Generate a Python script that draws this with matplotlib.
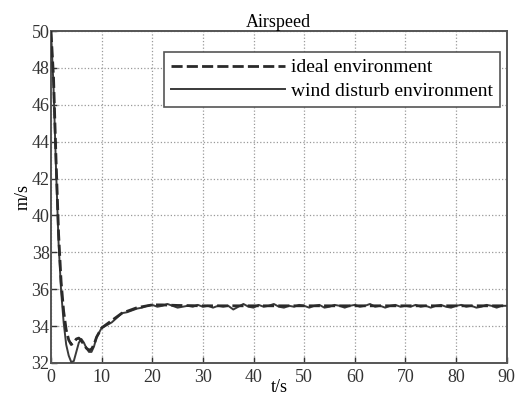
import matplotlib
matplotlib.use("Agg")
import matplotlib.pyplot as plt

plt.rcParams['font.family'] = ['Liberation Serif', 'DejaVu Serif']

# ideal environment (dashed)
ideal_t = [0, 0.5, 1, 1.5, 2, 2.5, 3, 3.5, 4, 4.5, 5, 5.5, 6, 6.5, 7, 7.5, 8, 8.5, 9,
           10, 11, 12, 13, 14, 15, 16, 17, 18, 19, 20, 22, 25, 30, 40, 50, 60, 70, 80, 90]
ideal_v = [50, 47.5, 43.0, 39.0, 36.4, 34.8, 33.8, 33.25, 33.0, 33.1, 33.3, 33.35, 33.2, 33.0, 32.8, 32.7, 32.75, 33.0, 33.4,
           33.9, 34.1, 34.3, 34.5, 34.7, 34.8, 34.9, 35.0, 35.05, 35.1, 35.15, 35.15, 35.12, 35.1, 35.1, 35.1, 35.1, 35.1, 35.1, 35.1]

# wind disturb environment (solid)
wind_t = [0, 0.5, 1, 1.5, 2, 2.5, 3, 3.5, 4, 4.5, 5, 5.5, 6, 6.5, 7, 7.5, 8, 8.5, 9,
          10, 11, 12, 13, 14, 15, 16, 17, 18, 19, 20, 21, 22, 23, 24, 25, 26, 27, 28, 29,
          30, 31, 32, 33, 34, 35, 36, 37, 38, 39, 40, 41, 42, 43, 44, 45, 46, 47, 48, 49,
          50, 51, 52, 53, 54, 55, 56, 57, 58, 59, 60, 61, 62, 63, 64, 65, 66, 67, 68, 69,
          70, 71, 72, 73, 74, 75, 76, 77, 78, 79, 80, 81, 82, 83, 84, 85, 86, 87, 88, 89, 90]
wind_v = [50, 47.0, 42.5, 38.5, 35.9, 34.2, 33.0, 32.4, 32.05, 32.1, 32.6, 33.1, 33.3, 33.1, 32.8, 32.6, 32.6, 32.9, 33.4,
          33.9, 34.05, 34.2, 34.45, 34.7, 34.75, 34.85, 34.95, 35.0, 35.1, 35.15, 35.05, 35.1, 35.2, 35.1, 35.0, 35.05, 35.1, 35.05, 35.15,
          35.05, 35.1, 35.0, 35.1, 35.05, 35.1, 34.9, 35.05, 35.2, 35.05, 35.0, 35.15, 35.05, 35.1, 35.2, 35.05, 35.0, 35.1, 35.05, 35.15,
          35.1, 35.0, 35.1, 35.15, 35.0, 35.05, 35.15, 35.1, 35.0, 35.1, 35.15, 35.05, 35.1, 35.2, 35.05, 35.1, 35.0, 35.1, 35.15, 35.05,
          35.1, 35.05, 35.15, 35.05, 35.1, 35.0, 35.1, 35.15, 35.05, 35.0, 35.1, 35.15, 35.05, 35.1, 35.0, 35.05, 35.15, 35.1, 35.0, 35.1, 35.1]

xticks = list(range(0, 91, 10))
yticks = list(range(32, 51, 2))

fig = plt.figure(figsize=(5.15, 3.98), dpi=100)
ax = fig.add_axes([0.099, 0.088, 0.885, 0.834])

ax.plot(wind_t, wind_v, color='#3a3a3a', lw=1.4, label='wind disturb environment', zorder=3)
ax.plot(ideal_t, ideal_v, color='#2a2a2a', lw=2.0, ls=(0, (4, 1.5)), label='ideal environment', zorder=4)

ax.set_xlim(0, 90)
ax.set_ylim(32, 50)
ax.set_xticks(xticks)
ax.set_yticks(yticks)
ax.tick_params(direction='in', length=4, width=1, colors='#333333', labelsize=13)
ax.tick_params(axis='x', pad=4)
ax.tick_params(axis='y', pad=1)
ax.grid(True, ls=':', color='#999999', lw=0.9)
for s in ax.spines.values():
    s.set_color('#555555')
    s.set_linewidth(1.4)

ax.set_title('Airspeed', fontsize=13, pad=2)
ax.set_xlabel('t/s', fontsize=13, labelpad=-5)
ax.set_ylabel('m/s', fontsize=13, labelpad=0)

h, l = ax.get_legend_handles_labels()
leg = ax.legend([h[1], h[0]], [l[1], l[0]], loc='upper right', bbox_to_anchor=(0.985, 0.937),
                borderaxespad=0, fontsize=14, handlelength=5.9, fancybox=False, edgecolor='#555555',
                framealpha=1, borderpad=0.35, labelspacing=0.3, handletextpad=0.3)
leg.get_frame().set_linewidth(1.2)

fig.savefig('out.png', dpi=100)
